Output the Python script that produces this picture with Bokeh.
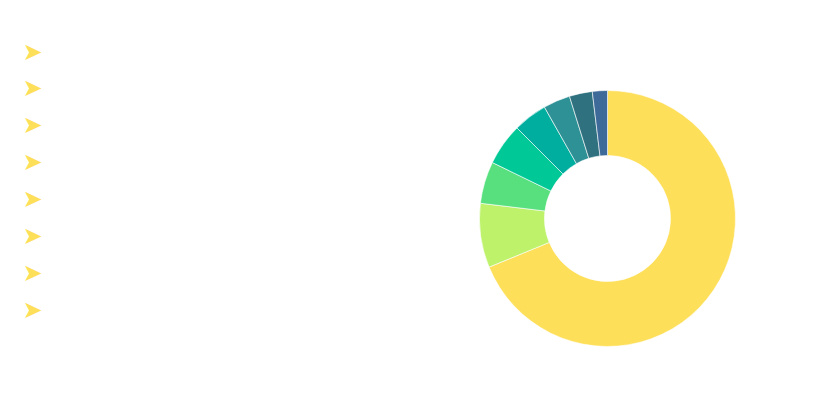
from math import pi

from bokeh.core.properties import value
from bokeh.embed import file_html
from bokeh.models import ColumnDataSource, Range1d
from bokeh.plotting import figure
from bokeh.resources import INLINE

# slice shares (percent), read clockwise from 12 o'clock
categories = ["A", "B", "C", "D", "E", "F", "G", "H"]
shares = [68.8, 8.1, 5.3, 5.3, 4.3, 3.4, 2.9, 1.9]
colors = ["#fedf5a", "#bdf26a", "#58e07f", "#00c896", "#00ae9f",
          "#2e9196", "#30717f", "#3d6a98"]

total = sum(shares)
starts, ends = [], []
acc = 0.0
for s in shares:
    starts.append(pi / 2 - 2 * pi * acc / total)
    acc += s
    ends.append(pi / 2 - 2 * pi * acc / total)

p = figure(width=822, height=392, output_backend="svg", toolbar_location=None,
           x_range=Range1d(0, 822), y_range=Range1d(16, 408), min_border=0)
p.axis.visible = False
p.grid.visible = False
p.outline_line_color = None

src = ColumnDataSource(dict(cat=categories, start=starts, end=ends, color=colors))
p.annular_wedge(x=607, y=190, inner_radius=63, outer_radius=128,
                start_angle="start", end_angle="end", direction="clock",
                fill_color="color", line_color="white", line_width=0.6,
                source=src)

# legend markers on the left
ly = [357 - 36.9 * i for i in range(len(categories))]
p.text(x=[32] * len(categories), y=ly, text=["➤"] * len(categories),
       text_color="#fedf5a", text_font=value("DejaVu Sans"),
       text_font_size="24px", text_align="center", text_baseline="middle")

open("out.html", "w").write(file_html(p, INLINE))
